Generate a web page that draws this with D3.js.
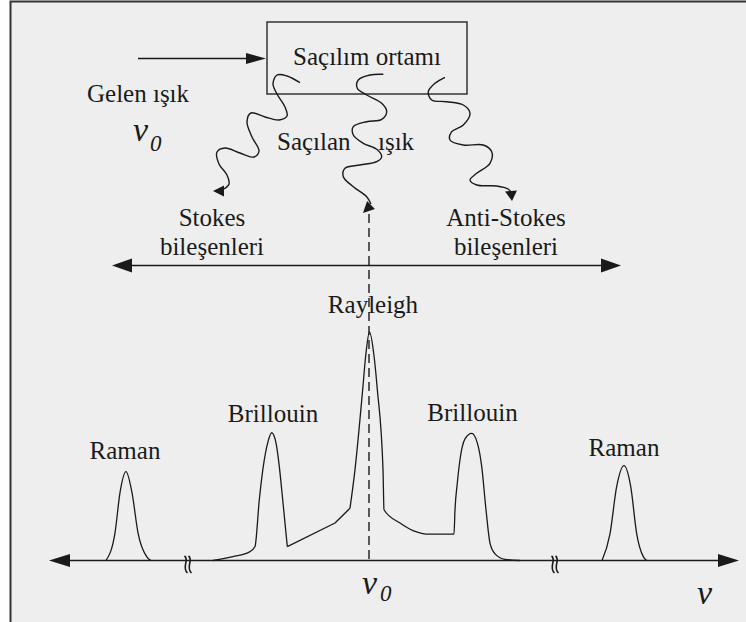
<!DOCTYPE html>
<html>
<head>
<meta charset="utf-8">
<script src="https://cdnjs.cloudflare.com/ajax/libs/d3/7.8.5/d3.min.js"></script>
<style>
    body { margin: 0; background: #fff; }
    svg { display: block; }
</style>
</head>
<body>
<div id="chart"></div>
<script>
// spectrum: frequency shift from nu0 (arbitrary units), relative intensity (Rayleigh = 100)
const stokesRamanShift = [-263, -254, -249, -243, -237, -231, -222, -218];
const stokesRamanI     = [0, 12.1, 29.7, 38.9, 29.7, 12.1, 1.5, 0];

const centralShift = [-156, -136, -119, -114, -109.7, -105.7, -101.3, -97.3, -93, -89.7, -86.3, -81.7,
                      -34, -19, -14, -6.3, -3.3, 0.5, 5, 8.3, 14, 15,
                      31, 44, 61, 85, 86, 88.3, 91, 96, 102.7, 108.3, 112.7, 117, 121, 126, 136, 151];
const centralI     = [0, 1.7, 3.9, 6.1, 26.6, 41.2, 51.5, 55.9, 51.5, 41.2, 26.6, 6.1,
                      16.4, 22.9, 39.8, 74.9, 89.6, 100, 89.6, 74.9, 39.8, 22.2,
                      16.4, 13.1, 11.5, 11.5, 22.2, 33.9, 44.2, 53.2, 55.6, 51.5, 41.2, 22.2, 7.6, 2.9, 0.5, 0];

const antiRamanShift = [233, 241, 247.7, 255, 261.7, 267.7, 274.3, 277.7];
const antiRamanI     = [0, 11.7, 32.4, 41.5, 32.4, 11.7, 1.7, 0];

const peakNames = ['Raman', 'Brillouin', 'Rayleigh', 'Brillouin', 'Raman'];
const peakShift = [-244, -96, 4, 103.5, 255];
const peakI     = [38.9, 55.9, 100, 55.6, 41.5];

const breakShift = [-181, 186];

const W = 746, H = 622;
const serif = '"Liberation Serif", "Times New Roman", Times, serif';
const svg = d3.select('#chart').append('svg')
    .attr('width', W)
    .attr('height', H);

// page frame
svg.append('rect')
    .attr('x', 10).attr('y', 1)
    .attr('width', W - 10).attr('height', H - 1)
    .attr('fill', '#eeeeee');
svg.append('path')
    .attr('d', `M10.5,${H} V1.5 H${W}`)
    .attr('fill', 'none')
    .attr('stroke', '#333')
    .attr('stroke-width', 2);

const x = d3.scaleLinear().domain([-320, 370]).range([49, 739]);
const y = d3.scaleLinear().domain([0, 100]).range([560.5, 332]);

const ink = '#1a1a1a';

function arrowHead(tip, base, halfW) {
    const dx = tip[0] - base[0], dy = tip[1] - base[1];
    const len = Math.hypot(dx, dy);
    const nx = -dy / len * halfW, ny = dx / len * halfW;
    svg.append('path')
        .attr('d', `M${tip[0]},${tip[1]} L${base[0] + nx},${base[1] + ny} L${base[0] - nx},${base[1] - ny} Z`)
        .attr('fill', ink);
}

function label(txt, px, py, size, anchor, italic) {
    return svg.append('text')
        .attr('x', px).attr('y', py)
        .attr('font-family', serif)
        .attr('font-size', size)
        .attr('fill', ink)
        .attr('text-anchor', anchor || 'start')
        .attr('font-style', italic ? 'italic' : 'normal')
        .text(txt);
}

// --- top schematic ---
svg.append('rect')
    .attr('x', 267).attr('y', 22)
    .attr('width', 200).attr('height', 72)
    .attr('fill', 'none')
    .attr('stroke', '#333')
    .attr('stroke-width', 1.5);
label('Saçılım ortamı', 367, 65, 25, 'middle');

svg.append('line')
    .attr('x1', 138).attr('x2', 250)
    .attr('y1', 58.5).attr('y2', 58.5)
    .attr('stroke', ink).attr('stroke-width', 1.5);
arrowHead([266, 58.5], [246, 58.5], 5.5);

label('Gelen ışık', 87, 102, 25);
label('ν', 133, 141, 34, 'start', true);
label('0', 150, 151, 23, 'start', true);

label('Saçılan', 277, 150, 25);
label('ışık', 378, 150, 25);

const wave = d3.line().curve(d3.curveCatmullRom.alpha(0.5));
const waves = [
    [[300, 82.7], [287, 76], [277, 75], [273, 84], [277, 94], [285, 107], [287, 116], [279, 120], [265, 117],
     [251, 113], [247, 122], [252, 137], [259, 151], [254, 157], [240, 153], [225, 148], [217, 152], [219, 164],
     [227, 175], [229, 184], [224, 189]],
    [[383.3, 74.3], [370, 75], [358.3, 80], [357.3, 88.3], [366.7, 95], [381.7, 103.3], [386.7, 111.7],
     [381.7, 119.3], [366.7, 121.7], [353.3, 126.7], [353.3, 135], [363.3, 143.3], [376.7, 149.3],
     [381.7, 156.7], [376.7, 161.7], [360, 165], [345, 168.3], [343.3, 176.7], [353.3, 186.7],
     [366.7, 196.7], [371, 204]],
    [[445, 77.3], [435, 83.3], [428.3, 91.7], [431.7, 100], [446.7, 101.7], [463.3, 105], [470, 113.3],
     [463.3, 125], [451.7, 131.7], [450, 140], [463.3, 145], [483.3, 145], [491.7, 151.7], [490, 163.3],
     [476.7, 173.3], [470, 180], [476.7, 185], [496.7, 186], [508, 189], [511, 192]]
];
svg.append('g')
    .selectAll('path')
    .data(waves)
    .join('path')
    .attr('d', d => wave(d))
    .attr('fill', 'none')
    .attr('stroke', ink)
    .attr('stroke-width', 1.4);
arrowHead([213, 191], [224, 191], 5.5);
arrowHead([363, 213], [371, 205], 5.5);
arrowHead([512, 201], [511, 191], 6);

label('Stokes', 212, 226, 25, 'middle');
label('bileşenleri', 212, 255, 25, 'middle');
label('Anti-Stokes', 506, 226, 25, 'middle');
label('bileşenleri', 506, 255, 25, 'middle');

// Stokes <-> anti-Stokes direction
const dirY = 265.5;
svg.append('line')
    .attr('x1', x(-250)).attr('x2', x(245))
    .attr('y1', dirY).attr('y2', dirY)
    .attr('stroke', ink).attr('stroke-width', 1.5);
arrowHead([x(-257), dirY], [x(-237), dirY], 7);
arrowHead([x(252), dirY], [x(232), dirY], 7);

// --- spectrum ---
svg.append('line')
    .attr('x1', x(-310)).attr('x2', x(360))
    .attr('y1', y(0)).attr('y2', y(0))
    .attr('stroke', ink).attr('stroke-width', 1.5);
arrowHead([x(-320), y(0)], [x(-299), y(0)], 6.5);
arrowHead([x(370), y(0)], [x(349), y(0)], 6.5);

svg.append('line')
    .attr('x1', x(0)).attr('x2', x(0))
    .attr('y1', 214).attr('y2', y(0))
    .attr('stroke', ink)
    .attr('stroke-width', 1.4)
    .attr('stroke-dasharray', '9,5');

const spec = d3.line()
    .x(d => x(d[0]))
    .y(d => y(d[1]));

const central = d3.zip(centralShift, centralI);
// smooth peaks, straight connector between left Brillouin and Rayleigh
const segments = [
    { pts: d3.zip(stokesRamanShift, stokesRamanI), curve: d3.curveMonotoneX },
    { pts: central.slice(0, 12), curve: d3.curveMonotoneX },
    { pts: central.slice(11, 14), curve: d3.curveLinear },
    { pts: central.slice(13), curve: d3.curveMonotoneX },
    { pts: d3.zip(antiRamanShift, antiRamanI), curve: d3.curveMonotoneX }
];
svg.append('g')
    .selectAll('path')
    .data(segments)
    .join('path')
    .attr('d', d => spec.curve(d.curve)(d.pts))
    .attr('fill', 'none')
    .attr('stroke', ink)
    .attr('stroke-width', 1.3)
    .attr('stroke-linejoin', 'round');

// axis breaks
breakShift.forEach(s => {
    [-2, 2].forEach(off => {
        const cx = x(s) + off;
        svg.append('path')
            .attr('d', `M${cx - 1.5},556 C${cx + 4},560 ${cx - 5},567 ${cx + 1.5},573`)
            .attr('fill', 'none')
            .attr('stroke', ink)
            .attr('stroke-width', 1.6);
    });
});

const peakOffset = [13, 11, 19, 12, 10];
peakNames.forEach((name, i) => {
    label(name, x(peakShift[i]), y(peakI[i]) - peakOffset[i], 25, 'middle');
});

label('ν', x(-7), 594, 34, 'start', true);
label('0', x(11), 601, 23, 'start', true);
label('ν', 697, 604, 34, 'start', true);
</script>
</body>
</html>
